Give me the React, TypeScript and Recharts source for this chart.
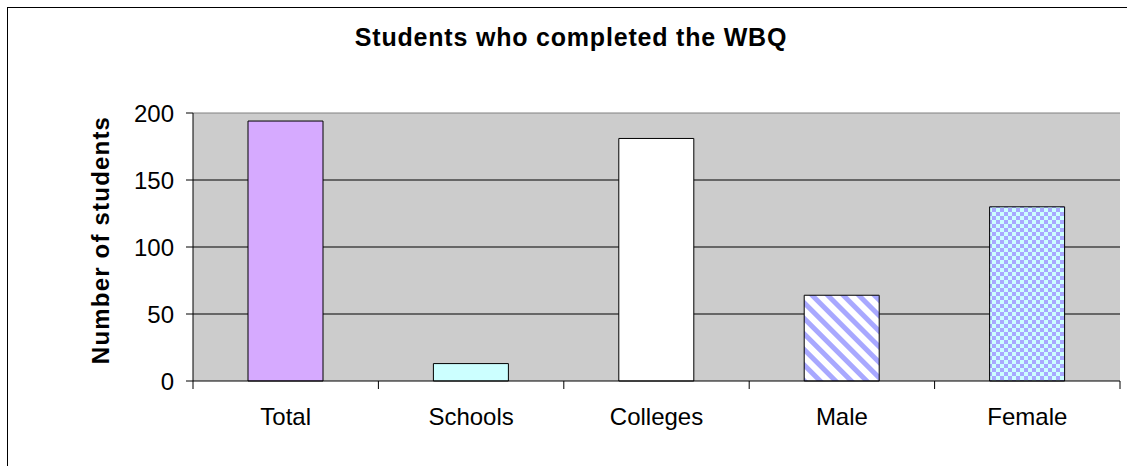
import React from 'react';
import { BarChart, Bar, XAxis, YAxis, CartesianGrid, Cell } from 'recharts';

const categories = ['Total', 'Schools', 'Colleges', 'Male', 'Female'];
const students = [194, 13, 181, 64, 130];
const yTicks = [0, 50, 100, 150, 200];

const fills = ['#D6AAFF', '#CCFFFF', '#FFFFFF', 'url(#maleStripes)', 'url(#femaleChecks)'];

const data = categories.map((name, i) => ({ name, value: students[i] }));

const FONT = '"Liberation Sans", Arial, sans-serif';
const TICK_SIZE = 8;
const TICK_MARGIN = 19;

const YLabel = () => (
  <text
    x={100}
    y={240}
    transform="rotate(-90 100 240)"
    textAnchor="middle"
    dominantBaseline="central"
    fontFamily={FONT}
    fontWeight="bold"
    fontSize={24}
    letterSpacing={1.2}
    fill="#000"
  >
    Number of students
  </text>
);

// category label plus the tick marks that sit between categories
const CatTick = (props: any) => {
  const { x, y, payload, index } = props;
  const half = payload?.offset ?? 0;
  const axisY = y - TICK_SIZE - TICK_MARGIN;
  const last = index === categories.length - 1;
  return (
    <g>
      <line x1={x - half} x2={x - half} y1={axisY} y2={axisY + TICK_SIZE} stroke="#000" />
      {last && <line x1={x + half} x2={x + half} y1={axisY} y2={axisY + TICK_SIZE} stroke="#000" />}
      <text x={x} y={y} dy="0.71em" textAnchor="middle" fill="#000" fontSize={24} fontFamily={FONT}>
        {payload.value}
      </text>
    </g>
  );
};

const App: React.FC = () => {
  return (
    <div style={{ position: 'fixed', left: 0, top: 0, width: 1127, height: 466, overflow: 'hidden', background: '#fff' }}>
      <div style={{ position: 'absolute', left: 7, top: 7, width: 1140, height: 480, border: '1px solid #000' }} />
      <div
        style={{
          position: 'absolute',
          left: 0,
          width: 1142,
          top: 25,
          textAlign: 'center',
          fontFamily: FONT,
          fontWeight: 'bold',
          fontSize: 25,
          letterSpacing: 0.8,
          lineHeight: '25px',
          color: '#000',
        }}
      >
        Students who completed the WBQ
      </div>
      <div style={{ position: 'absolute', left: 0, top: 0 }}>
        <BarChart
          width={1127}
          height={466}
          data={data}
          margin={{ top: 113, right: 7, bottom: 35, left: 113 }}
        >
          <defs>
            <pattern id="maleStripes" width="11" height="11" patternUnits="userSpaceOnUse" patternTransform="rotate(-45)">
              <rect width="11" height="11" fill="#FFFFFF" />
              <rect x="0" width="5" height="11" fill="#A8A8FF" />
            </pattern>
            <pattern id="femaleChecks" width="8" height="8" patternUnits="userSpaceOnUse">
              <rect width="8" height="8" fill="#CCFFFF" />
              <rect x="0" y="0" width="4" height="4" fill="#A8A8FF" />
              <rect x="4" y="4" width="4" height="4" fill="#A8A8FF" />
            </pattern>
          </defs>
          <XAxis
            xAxisId="a"
            type="number"
            domain={[0, 5]}
            ticks={[5]}
            tick={false}
            tickLine={false}
            axisLine={false}
            height={0}
          />
          <XAxis
            xAxisId="cat"
            dataKey="name"
            height={50}
            tickLine={false}
            tickSize={TICK_SIZE}
            tickMargin={TICK_MARGIN}
            axisLine={{ stroke: '#000' }}
            tick={<CatTick />}
          />
          <YAxis
            domain={[0, 200]}
            ticks={yTicks}
            width={80}
            tickSize={7}
            tickMargin={12}
            axisLine={{ stroke: '#000' }}
            tickLine={{ stroke: '#000' }}
            tick={{ fill: '#000', fontSize: 24, fontFamily: FONT }}
            label={<YLabel />}
          />
          <CartesianGrid
            xAxisId="cat"
            vertical={false}
            horizontalValues={[50, 100, 150]}
            fill="#CCCCCC"
            stroke="#000"
            strokeOpacity={1}
          />
          <CartesianGrid
            xAxisId="a"
            horizontalValues={[200]}
            verticalValues={[5]}
            stroke="#808080"
            strokeOpacity={1}
          />
          <Bar xAxisId="cat" dataKey="value" barSize={75} stroke="#000" strokeWidth={1} isAnimationActive={false}>
            {data.map((d, i) => (
              <Cell key={d.name} fill={fills[i]} />
            ))}
          </Bar>
        </BarChart>
      </div>
    </div>
  );
};

export default App;
